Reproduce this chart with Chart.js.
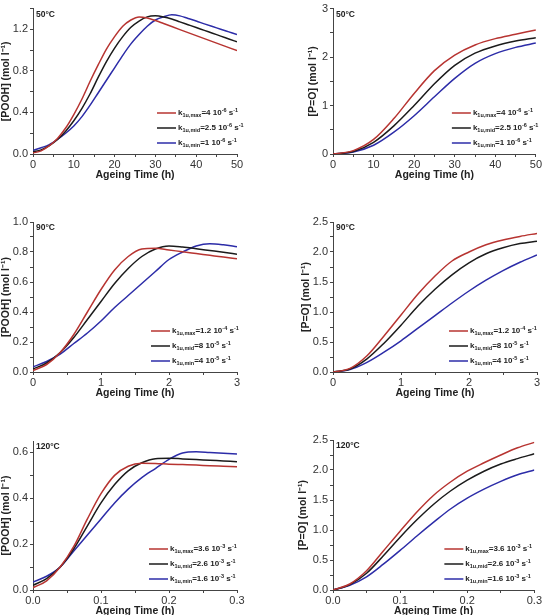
<!DOCTYPE html>
<html>
<head>
<meta charset="utf-8">
<script src="https://cdn.jsdelivr.net/npm/chart.js@4.4.0/dist/chart.umd.min.js"></script>
<style>
  html, body { margin: 0; padding: 0; background: #fff; width: 543px; height: 615px; overflow: hidden; }
  .panel { position: absolute; }
</style>
</head>
<body>
<div class="panel" style="left:0;top:0"><canvas id="c1" width="270" height="205"></canvas></div>
<div class="panel" style="left:270px;top:0"><canvas id="c2" width="273" height="205"></canvas></div>
<div class="panel" style="left:0;top:205px"><canvas id="c3" width="270" height="205"></canvas></div>
<div class="panel" style="left:270px;top:205px"><canvas id="c4" width="273" height="205"></canvas></div>
<div class="panel" style="left:0;top:410px"><canvas id="c5" width="270" height="210"></canvas></div>
<div class="panel" style="left:270px;top:410px"><canvas id="c6" width="273" height="210"></canvas></div>
<script>
// --- Data ---
const time50 = [0, 2, 4, 6, 8, 10, 12, 14, 16, 18, 20, 22, 24, 26, 28, 30, 32, 34, 36, 38, 40, 42, 44, 46, 48, 50];
const pooh50Max = [0.01, 0.03, 0.08, 0.15, 0.25, 0.38, 0.53, 0.70, 0.86, 1.01, 1.13, 1.23, 1.29, 1.32, 1.31, 1.285, 1.256, 1.227, 1.198, 1.169, 1.14, 1.111, 1.082, 1.053, 1.024, 0.995];
const pooh50Mid = [0.02, 0.04, 0.08, 0.14, 0.22, 0.32, 0.44, 0.58, 0.74, 0.89, 1.02, 1.13, 1.22, 1.28, 1.32, 1.33, 1.32, 1.30, 1.272, 1.245, 1.218, 1.19, 1.163, 1.135, 1.108, 1.08];
const pooh50Min = [0.035, 0.06, 0.09, 0.14, 0.20, 0.27, 0.36, 0.47, 0.59, 0.71, 0.83, 0.95, 1.06, 1.15, 1.23, 1.29, 1.32, 1.34, 1.33, 1.305, 1.28, 1.253, 1.227, 1.202, 1.176, 1.15];

const timePO50 = [0, 5, 10, 15, 20, 25, 30, 35, 40, 45, 50];
const po50Max = [0, 0.07, 0.30, 0.73, 1.25, 1.72, 2.04, 2.25, 2.38, 2.47, 2.56];
const po50Mid = [0, 0.05, 0.24, 0.58, 1.00, 1.45, 1.83, 2.08, 2.23, 2.33, 2.40];
const po50Min = [0, 0.04, 0.18, 0.45, 0.79, 1.18, 1.56, 1.87, 2.07, 2.20, 2.29];

const time90 = [0, 0.2, 0.4, 0.6, 0.8, 1.0, 1.2, 1.4, 1.6, 1.8, 2.0, 2.2, 2.4, 2.6, 2.8, 3.0];
const pooh90Max = [0.01, 0.05, 0.13, 0.25, 0.40, 0.55, 0.68, 0.77, 0.82, 0.825, 0.813, 0.802, 0.79, 0.778, 0.766, 0.755];
const pooh90Mid = [0.02, 0.06, 0.13, 0.23, 0.35, 0.47, 0.59, 0.69, 0.77, 0.82, 0.84, 0.833, 0.822, 0.81, 0.798, 0.785];
const pooh90Min = [0.035, 0.07, 0.12, 0.19, 0.26, 0.34, 0.43, 0.51, 0.59, 0.67, 0.75, 0.80, 0.84, 0.855, 0.848, 0.835];

const timePO90 = [0, 0.25, 0.5, 0.75, 1.0, 1.25, 1.5, 1.75, 2.0, 2.25, 2.5, 2.75, 3.0];
const po90Max = [0, 0.06, 0.27, 0.60, 0.95, 1.30, 1.60, 1.85, 2.00, 2.12, 2.20, 2.26, 2.31];
const po90Mid = [0, 0.05, 0.22, 0.48, 0.78, 1.10, 1.38, 1.62, 1.82, 1.97, 2.07, 2.14, 2.18];
const po90Min = [0, 0.04, 0.16, 0.33, 0.52, 0.73, 0.94, 1.15, 1.35, 1.53, 1.69, 1.83, 1.95];

const time120 = [0, 0.02, 0.04, 0.06, 0.08, 0.10, 0.12, 0.14, 0.16, 0.18, 0.20, 0.22, 0.24, 0.26, 0.28, 0.30];
const pooh120Max = [0.01, 0.04, 0.10, 0.19, 0.31, 0.42, 0.50, 0.54, 0.553, 0.552, 0.549, 0.547, 0.545, 0.542, 0.540, 0.538];
const pooh120Mid = [0.02, 0.05, 0.10, 0.18, 0.28, 0.38, 0.46, 0.52, 0.555, 0.573, 0.575, 0.572, 0.569, 0.566, 0.563, 0.560];
const pooh120Min = [0.035, 0.06, 0.10, 0.17, 0.24, 0.31, 0.38, 0.44, 0.49, 0.53, 0.57, 0.598, 0.603, 0.600, 0.597, 0.593];

const timePO120 = [0, 0.025, 0.05, 0.075, 0.1, 0.125, 0.15, 0.175, 0.2, 0.225, 0.25, 0.275, 0.3];
const po120Max = [0, 0.10, 0.32, 0.65, 0.98, 1.30, 1.58, 1.80, 1.98, 2.12, 2.25, 2.37, 2.46];
const po120Mid = [0, 0.09, 0.28, 0.57, 0.88, 1.17, 1.43, 1.65, 1.83, 1.98, 2.10, 2.19, 2.27];
const po120Min = [0, 0.08, 0.22, 0.43, 0.66, 0.90, 1.13, 1.35, 1.53, 1.68, 1.81, 1.92, 2.00];

// legend pieces
const kSubs = ['1u,max', '1u,mid', '1u,min'];
const kVal50 = ['4', '2.5', '1'];
const kExp50 = ['-6', '-6', '-6'];
const kVal90 = ['1.2', '8', '4'];
const kExp90 = ['-4', '-5', '-5'];
const kVal120 = ['3.6', '2.6', '1.6'];
const kExp120 = ['-3', '-3', '-3'];

// tick labels
const xLabels50 = ['0', '10', '20', '30', '40', '50'];
const xLabels90 = ['0', '1', '2', '3'];
const xLabels120 = ['0.0', '0.1', '0.2', '0.3'];
const yLabelsPOOH50 = ['0.0', '0.4', '0.8', '1.2'];
const yLabelsPO50 = ['0', '1', '2', '3'];
const yLabelsPOOH90 = ['0.0', '0.2', '0.4', '0.6', '0.8', '1.0'];
const yLabelsPO90 = ['0.0', '0.5', '1.0', '1.5', '2.0', '2.5'];
const yLabelsPOOH120 = ['0.0', '0.2', '0.4', '0.6'];
const yLabelsPO120 = ['0.0', '0.5', '1.0', '1.5', '2.0', '2.5'];

const lineColors = ['#b73431', '#1b1b1b', '#2c2ca8'];
const FONT = '"Liberation Sans", Arial, sans-serif';
const X_AXIS_H = 27;

// --- Panels: data refs + layout ---
const panels = [
  { id: 'c1', t: time50, s: [pooh50Max, pooh50Mid, pooh50Min], yTitle: '[POOH] (mol l⁻¹)',
    yMax: 1.4, yStep: 0.2, yLabels: yLabelsPOOH50, xMax: 50, xStep: 5, xLabels: xLabels50,
    temp: '50°C', kv: kVal50, ke: kExp50, box: { W: 270, H: 205, T: 5, B: 154, L: 33, R: 237, padL: 0 }, legendDx: 80 },
  { id: 'c2', t: timePO50, s: [po50Max, po50Mid, po50Min], yTitle: '[P=O] (mol l⁻¹)',
    yMax: 3, yStep: 0.5, yLabels: yLabelsPO50, xMax: 50, xStep: 5, xLabels: xLabels50,
    temp: '50°C', kv: kVal50, ke: kExp50, box: { W: 273, H: 205, T: 5, B: 154, L: 63, R: 267, padL: 37 }, legendDx: 84 },
  { id: 'c3', t: time90, s: [pooh90Max, pooh90Mid, pooh90Min], yTitle: '[POOH] (mol l⁻¹)',
    yMax: 1.0, yStep: 0.1, yLabels: yLabelsPOOH90, xMax: 3, xStep: 0.5, xLabels: xLabels90,
    temp: '90°C', kv: kVal90, ke: kExp90, box: { W: 270, H: 205, T: 17, B: 167, L: 33, R: 237, padL: 0 }, legendDx: 86 },
  { id: 'c4', t: timePO90, s: [po90Max, po90Mid, po90Min], yTitle: '[P=O] (mol l⁻¹)',
    yMax: 2.5, yStep: 0.25, yLabels: yLabelsPO90, xMax: 3, xStep: 0.5, xLabels: xLabels90,
    temp: '90°C', kv: kVal90, ke: kExp90, box: { W: 273, H: 205, T: 17, B: 167, L: 63, R: 267, padL: 30 }, legendDx: 88 },
  { id: 'c5', t: time120, s: [pooh120Max, pooh120Mid, pooh120Min], yTitle: '[POOH] (mol l⁻¹)',
    yMax: 0.65, yStep: 0.1, yLabels: yLabelsPOOH120, xMax: 0.3, xStep: 0.05, xLabels: xLabels120,
    temp: '120°C', kv: kVal120, ke: kExp120, box: { W: 270, H: 210, T: 31, B: 180, L: 33, R: 237, padL: 0 }, legendDx: 88 },
  { id: 'c6', t: timePO120, s: [po120Max, po120Mid, po120Min], yTitle: '[P=O] (mol l⁻¹)',
    yMax: 2.5, yStep: 0.25, yLabels: yLabelsPO120, xMax: 0.3, xStep: 0.05, xLabels: xLabels120,
    temp: '120°C', kv: kVal120, ke: kExp120, box: { W: 273, H: 210, T: 30, B: 180, L: 63, R: 267, padL: 27 }, legendDx: 90 }
];

function stepValues(max, step) {
  const out = [];
  for (let v = 0; v <= max + 1e-9; v += step) out.push(+v.toFixed(6));
  return out;
}

function labelFor(labels, value) {
  const lab = labels.find(l => Math.abs(parseFloat(l) - value) < 1e-6);
  return lab !== undefined ? lab : '';
}

// draws k_sub=val 10^exp s^-1 with small raised / lowered parts
function drawRich(ctx, x, y, parts) {
  parts.forEach(p => {
    const size = p.s ? 5.5 : 8;
    ctx.font = 'bold ' + size + 'px ' + FONT;
    const dy = p.s === 'sub' ? 2.5 : (p.s === 'sup' ? -2.5 : 0);
    ctx.fillText(p.t, x, y + dy);
    x += ctx.measureText(p.t).width;
  });
}

const panelDecor = {
  id: 'panelDecor',
  afterDraw(chart, args, opts) {
    const { ctx, chartArea } = chart;
    ctx.save();
    ctx.fillStyle = '#222';
    ctx.textBaseline = 'middle';
    ctx.font = 'bold 8.5px ' + FONT;
    ctx.fillText(opts.temp, chartArea.left + 3, chartArea.top + 6);

    const rowOffsets = [41, 26, 11];
    const x0 = chartArea.right - opts.dx;
    chart.data.datasets.forEach((ds, i) => {
      const y = chartArea.bottom - rowOffsets[i];
      ctx.strokeStyle = ds.borderColor;
      ctx.lineWidth = 1.5;
      ctx.beginPath();
      ctx.moveTo(x0, y);
      ctx.lineTo(x0 + 19, y);
      ctx.stroke();
      ctx.fillStyle = '#222';
      drawRich(ctx, x0 + 21, y, [
        { t: 'k' }, { t: kSubs[i], s: 'sub' }, { t: '=' + opts.kv[i] + ' 10' },
        { t: opts.ke[i], s: 'sup' }, { t: ' s' }, { t: '-1', s: 'sup' }
      ]);
    });
    ctx.restore();
  }
};

panels.forEach(p => {
  const b = p.box;
  const datasets = p.s.map((vals, i) => ({
    data: p.t.map((t, j) => ({ x: t, y: vals[j] })),
    borderColor: lineColors[i],
    borderWidth: 1.5,
    pointRadius: 0,
    cubicInterpolationMode: 'monotone',
    fill: false
  }));

  new Chart(document.getElementById(p.id).getContext('2d'), {
    type: 'line',
    data: { datasets: datasets },
    options: {
      responsive: false,
      animation: false,
      devicePixelRatio: 1,
      layout: { padding: { left: b.padL, top: b.T, right: b.W - b.R, bottom: b.H - b.B - X_AXIS_H } },
      plugins: {
        legend: { display: false },
        tooltip: { enabled: false },
        panelDecor: { temp: p.temp, kv: p.kv, ke: p.ke, dx: p.legendDx }
      },
      scales: {
        x: {
          type: 'linear',
          min: 0,
          max: p.xMax,
          afterBuildTicks: s => { s.ticks = stepValues(p.xMax, p.xStep).map(v => ({ value: v })); },
          afterFit: s => { s.height = X_AXIS_H; },
          ticks: {
            autoSkip: false, maxRotation: 0, padding: 1, color: '#333',
            font: { family: FONT, size: 11 },
            callback: v => labelFor(p.xLabels, v)
          },
          grid: { drawOnChartArea: false, drawTicks: true, tickLength: 3, tickColor: '#444', tickWidth: 1 },
          border: { display: true, color: '#444', width: 1 },
          title: { display: true, text: 'Ageing Time (h)', color: '#222', padding: 0,
                   font: { family: FONT, size: 10.5, weight: 'bold' } }
        },
        y: {
          type: 'linear',
          min: 0,
          max: p.yMax,
          afterBuildTicks: s => { s.ticks = stepValues(p.yMax, p.yStep).map(v => ({ value: v })); },
          afterFit: s => { s.width = b.L - b.padL; },
          ticks: {
            autoSkip: false, padding: 2, color: '#333',
            font: { family: FONT, size: 11 },
            callback: v => labelFor(p.yLabels, v)
          },
          grid: { drawOnChartArea: false, drawTicks: true, tickLength: 3, tickColor: '#444', tickWidth: 1 },
          border: { display: true, color: '#444', width: 1 },
          title: { display: true, text: p.yTitle, color: '#222', padding: 0,
                   font: { family: FONT, size: 10.5, weight: 'bold' } }
        }
      }
    },
    plugins: [panelDecor]
  });
});
</script>
</body>
</html>
